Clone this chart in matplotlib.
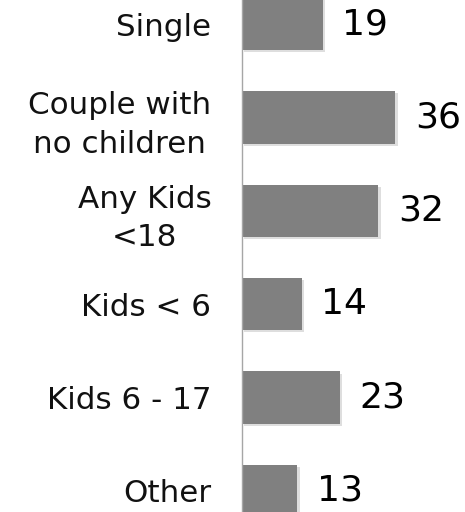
import matplotlib
matplotlib.use('Agg')
import matplotlib.pyplot as plt
import matplotlib.patheffects as pe

### Data ####################################################
categories = ['Single', 'Couple with\nno children', 'Any Kids\n<18',
              'Kids < 6', 'Kids 6 - 17', 'Other']
values = [19, 36, 32, 14, 23, 13]
#############################################################

plt.rcParams['font.family'] = 'DejaVu Sans'

fig = plt.figure(figsize=(4.65, 5.12), dpi=100)
ax = fig.add_axes([242 / 465, 0, 223 / 465, 1])

pos = list(range(len(categories)))
bars = ax.barh(pos, values, height=0.56, color='#808080',
               path_effects=[pe.SimplePatchShadow(offset=(1.5, -1.5), shadow_rgbFace='#c8c8c8', alpha=0.6),
                             pe.Normal()])

for b, v in zip(bars, values):
    ax.annotate(str(v), (b.get_width(), b.get_y() + b.get_height() / 2),
                xytext=(14, 0), textcoords='offset points',
                ha='left', va='center', fontsize=26, color='black')

ax.set_xlim(0, 52.3)
ax.set_ylim(5.225, -0.257)
ax.set_yticks(pos)
ax.set_yticklabels(categories, fontsize=22.3, color='#111111', multialignment='center',
                   linespacing=1.4)
ax.tick_params(axis='y', length=0, pad=22)
ax.set_xticks([])

for s in ['top', 'right', 'bottom']:
    ax.spines[s].set_visible(False)
ax.spines['left'].set_color('#a6a6a6')
ax.spines['left'].set_linewidth(1.0)

plt.savefig('out.png', dpi=100)
plt.close()
